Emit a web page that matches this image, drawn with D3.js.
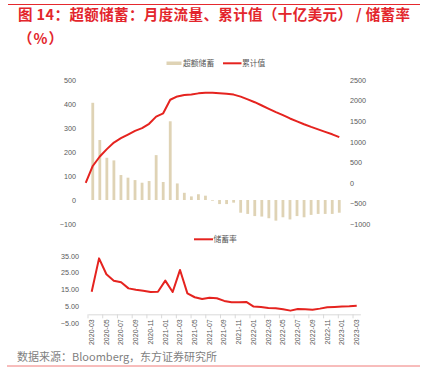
<!DOCTYPE html>
<html><head><meta charset="utf-8">
<script src="https://cdn.jsdelivr.net/npm/d3@7"></script>
<style>
body{margin:0;background:#fff;}
svg{display:block;font-family:"Liberation Sans","Noto Sans CJK SC",sans-serif;}
</style></head>
<body><svg id="c" width="425" height="387"></svg>
<script>
const topMonths = ["2020-02","2020-03","2020-04","2020-05","2020-06","2020-07","2020-08","2020-09","2020-10","2020-11","2020-12",
"2021-01","2021-02","2021-03","2021-04","2021-05","2021-06","2021-07","2021-08","2021-09","2021-10","2021-11","2021-12",
"2022-01","2022-02","2022-03","2022-04","2022-05","2022-06","2022-07","2022-08","2022-09","2022-10","2022-11","2022-12",
"2023-01","2023-02"];
const excessFlow = [null,405,250,176,165,104,93,83,72,79,187,75,328,69,30,15,24,18,-3,-17,-17,-11,-53,-58,-67,-69,-76,-86,-72,-81,-67,-72,-62,-58,-58,-58,-53];
const cumulative = [0,410,640,820,980,1085,1175,1265,1330,1435,1610,1690,2020,2100,2135,2150,2175,2190,2190,2180,2165,2145,2095,2030,1960,1880,1800,1720,1645,1565,1495,1425,1360,1300,1240,1180,1110];
const rateMonths = ["2020-03","2020-04","2020-05","2020-06","2020-07","2020-08","2020-09","2020-10","2020-11","2020-12",
"2021-01","2021-02","2021-03","2021-04","2021-05","2021-06","2021-07","2021-08","2021-09","2021-10","2021-11","2021-12",
"2022-01","2022-02","2022-03","2022-04","2022-05","2022-06","2022-07","2022-08","2022-09","2022-10","2022-11","2022-12",
"2023-01","2023-02","2023-03"];
const savingRate = [13.5,33.4,23.9,20.1,19.1,15.5,14.7,14.1,13.3,13.5,20.1,13.3,26.5,12.5,10.2,9.1,9.9,9.6,8.0,7.2,7.2,7.4,4.6,4.4,3.8,3.6,3.0,2.2,3.2,3.0,2.8,3.4,4.2,4.4,4.6,4.8,5.1];
const leftTicks = [-100,0,100,200,300,400,500];
const rightTicks = [-1000,-500,0,500,1000,1500,2000,2500];
const rateTicks = [-5,5,15,25,35];

const RED = "#e5231f", BEIGE = "#dfd3b5", GRAY = "#595959";
const svg = d3.select("#c");

// header / footer
svg.append("line").attr("x1",8).attr("x2",420).attr("y1",4.5).attr("y2",4.5).attr("stroke","#e5292e").attr("stroke-width",1);
const title = svg.append("text").attr("x",18).attr("y",20).attr("fill","#e3262c").attr("font-weight","bold").attr("font-size",14.5)
  .attr("font-family","'Noto Sans CJK SC',sans-serif")
  .text("图 14：超额储蓄：月度流量、累计值（十亿美元） / 储蓄率");
// stretch title to the reference's width (ends near x = 410)
const tw = title.node().getComputedTextLength();
title.attr("textLength",392).attr("lengthAdjust","spacing");
svg.append("text").attr("x",18).attr("y",44).attr("fill","#e3262c").attr("font-weight","bold").attr("font-size",14.5)
  .attr("letter-spacing",1).attr("font-family","'Noto Sans CJK SC',sans-serif").text("（%）");
svg.append("text").attr("x",17).attr("y",361).attr("fill","#7f7f7f").attr("font-size",11)
  .attr("font-family","'Noto Sans CJK SC',sans-serif").text("数据来源：Bloomberg，东方证券研究所");
svg.append("line").attr("x1",7).attr("x2",420).attr("y1",366).attr("y2",366).attr("stroke","#f07a78").attr("stroke-width",1);

// top chart
const x = d3.scaleBand().domain(topMonths).range([82.2,342.8]);
const yL = d3.scaleLinear().domain([-100,500]).range([224,80]);
const yR = d3.scaleLinear().domain([-1000,2500]).range([224,80]);

const axL = svg.append("g").attr("transform","translate(76,0)")
  .call(d3.axisLeft(yL).tickValues(leftTicks).tickFormat(d3.format("d")).tickSize(0).tickPadding(0));
const axR = svg.append("g").attr("transform","translate(350,0)")
  .call(d3.axisRight(yR).tickValues(rightTicks).tickFormat(d3.format("d")).tickSize(0).tickPadding(0));
[axL,axR].forEach(a=>{a.select(".domain").remove();
  a.selectAll("text").attr("fill",GRAY).attr("font-size",7.2).attr("font-family","'Liberation Sans',sans-serif");});

const bw = 2.8;
svg.append("g").selectAll("rect").data(topMonths.map((m,i)=>({m,v:excessFlow[i]})).filter(d=>d.v!==null))
  .join("rect")
  .attr("x",d=>x(d.m)+x.bandwidth()/2-bw/2).attr("width",bw)
  .attr("y",d=>Math.min(yL(d.v),yL(0))).attr("height",d=>Math.abs(yL(d.v)-yL(0)))
  .attr("fill",BEIGE);

svg.append("path").datum(topMonths.map((m,i)=>({m,v:cumulative[i]})))
  .attr("fill","none").attr("stroke",RED).attr("stroke-width",2).attr("stroke-linejoin","round")
  .attr("d",d3.line().x(d=>x(d.m)+x.bandwidth()/2).y(d=>yR(d.v)));

// top legend
const lg = svg.append("g").attr("font-size",7.8).attr("fill",GRAY).attr("font-family","'Noto Sans CJK SC',sans-serif");
lg.append("rect").attr("x",166.5).attr("y",61.5).attr("width",15).attr("height",3.5).attr("fill",BEIGE);
lg.append("text").attr("x",183).attr("y",66).text("超额储蓄");
lg.append("line").attr("x1",223).attr("x2",241.5).attr("y1",63.3).attr("y2",63.3).attr("stroke",RED).attr("stroke-width",2);
lg.append("text").attr("x",242).attr("y",66).text("累计值");

// bottom chart
const x2 = d3.scaleBand().domain(rateMonths).range([88,360.4]);
const y2 = d3.scaleLinear().domain([-5,35]).range([322.7,255.7]);
const ax2 = svg.append("g").attr("transform","translate(79,0)")
  .call(d3.axisLeft(y2).tickValues(rateTicks).tickFormat(d3.format(".2f")).tickSize(0).tickPadding(0));
ax2.select(".domain").remove();
ax2.selectAll("text").attr("fill",GRAY).attr("font-size",7.2).attr("font-family","'Liberation Sans',sans-serif");

const labelMonths = rateMonths.filter((m,i)=>i%2===0);
const bx = svg.append("g").attr("transform",`translate(0,${y2(0)})`)
  .call(d3.axisBottom(x2).tickValues(labelMonths).tickSize(0).tickPadding(0));
bx.select(".domain").attr("stroke","#d9d9d9");
bx.selectAll(".tick text").attr("fill",GRAY).attr("font-size",7).attr("font-family","'Liberation Sans',sans-serif")
  .attr("text-anchor","end").attr("transform","translate(0,5) rotate(-90)").attr("dy","0.32em").attr("y",0).attr("x",0);
// tick marks at category boundaries every two months
svg.append("g").selectAll("line").data(labelMonths).join("line")
  .attr("x1",d=>x2(d)).attr("x2",d=>x2(d)).attr("y1",y2(0)).attr("y2",y2(0)+4)
  .attr("stroke","#d9d9d9").attr("stroke-width",1);

svg.append("path").datum(rateMonths.map((m,i)=>({m,v:savingRate[i]})))
  .attr("fill","none").attr("stroke",RED).attr("stroke-width",2).attr("stroke-linejoin","round")
  .attr("d",d3.line().x(d=>x2(d.m)+x2.bandwidth()/2).y(d=>y2(d.v)));

const lg2 = svg.append("g").attr("font-size",7.8).attr("fill",GRAY).attr("font-family","'Noto Sans CJK SC',sans-serif");
lg2.append("line").attr("x1",194).attr("x2",213).attr("y1",239.3).attr("y2",239.3).attr("stroke",RED).attr("stroke-width",2);
lg2.append("text").attr("x",213.5).attr("y",242).text("储蓄率");
</script></body></html>
